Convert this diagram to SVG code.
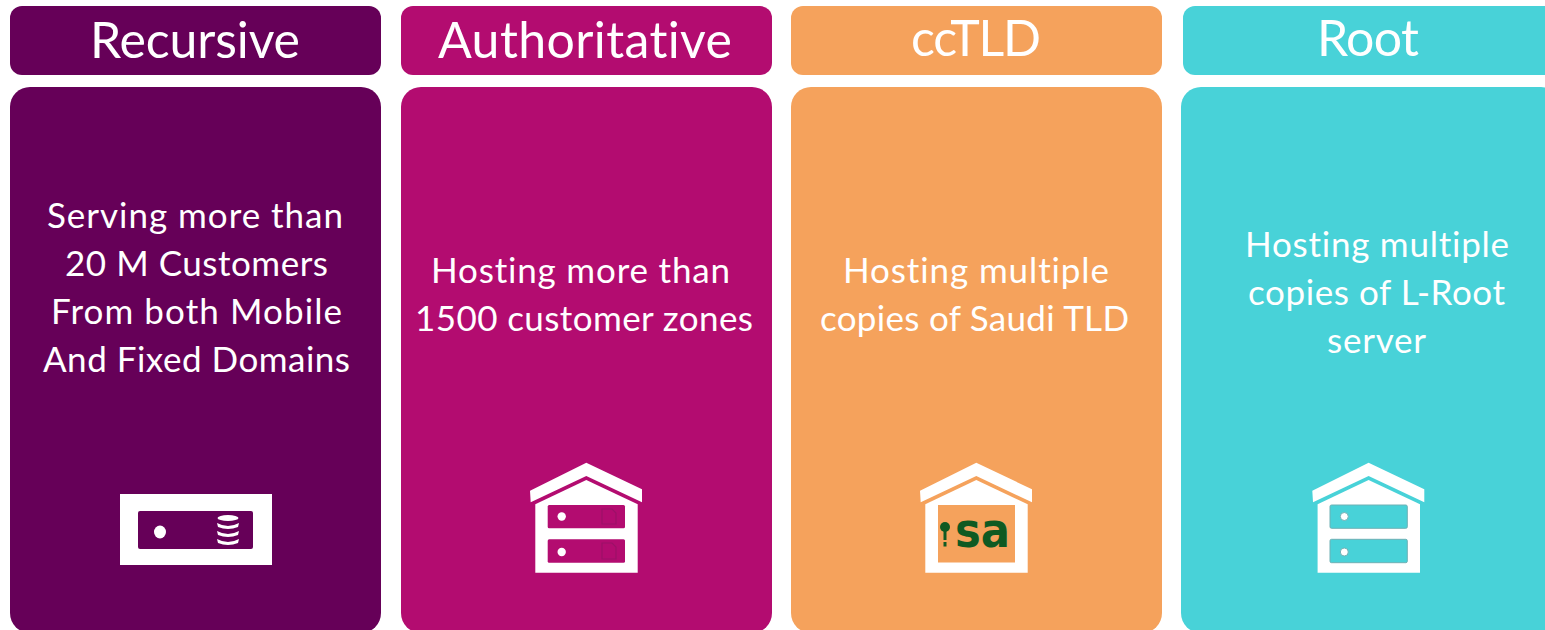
<svg xmlns="http://www.w3.org/2000/svg" width="1545" height="630" viewBox="0 0 1545 630">
<style>
text{font-family:"Lato","Carlito","Open Sans",sans-serif;fill:#fff;text-anchor:middle;font-variant-ligatures:none}
.h{font-size:50px}
.b{font-size:35px}
.w{fill:#fff}
.p{fill:#660058}.m{fill:#b30c70}.o{fill:#f5a25c}.t{fill:#48d2d8}
</style>
<defs>
<g id="house">
<path class="w" d="M586.300 462.700L642 489.300V502.300L586.300 476L530.700 502.300L530 490.700Z"/>
<path class="w" d="M586.300 480L637.700 504.300V572.700H535.300V504.300Z"/>
</g>
</defs>
<rect width="1545" height="630" fill="#fff"/>
<g id="recursive">
<rect class="p" x="10" y="6" width="371" height="69" rx="12"/>
<text class="h" x="195" y="58" textLength="210">Recursive</text>
<rect class="p" x="10" y="87" width="371" height="546" rx="20"/>
<text class="b" x="195" y="228" textLength="296">Serving more than</text>
<text class="b" x="196.500" y="276" textLength="263">20 M Customers</text>
<text class="b" x="196.500" y="324" textLength="291">From both Mobile</text>
<text class="b" x="196.500" y="372" textLength="307">And Fixed Domains</text>
<rect class="w" x="120" y="494" width="152" height="71"/>
<rect class="p" x="138" y="511" width="115" height="38" rx="2"/>
<ellipse class="w" cx="160" cy="532" rx="6" ry="6.500"/>
<g class="w">
<ellipse cx="228" cy="518" rx="10.500" ry="3"/>
<path d="M217 523Q228 529 239 523L238 527Q228 531 218 527Z"/>
<path d="M217 531Q228 537 239 531L238 535Q228 539 218 535Z"/>
<path d="M217 539Q228 545 239 539L238 543Q228 547 218 543Z"/>
</g>
</g>
<g id="authoritative">
<rect class="m" x="401" y="6" width="371" height="69" rx="12"/>
<text class="h" x="585" y="58" textLength="294">Authoritative</text>
<rect class="m" x="401" y="87" width="371" height="546" rx="20"/>
<text class="b" x="580.500" y="283" textLength="299">Hosting more than</text>
<text class="b" x="584" y="331" textLength="338">1500 customer zones</text>
<use href="#house"/>
<rect class="m" x="547.700" y="505" width="77.300" height="23.300" rx="1.500"/>
<rect class="m" x="547.700" y="539.300" width="77.300" height="23.400" rx="1.500"/>
<circle class="w" cx="561.700" cy="516.500" r="4.200"/>
<circle class="w" cx="561.700" cy="552" r="4.200"/>
<g fill="none" stroke="#9c1168" stroke-width="1.200">
<path d="M602 509H612L616 513V524H602Z"/>
<path d="M602 543H612L616 547V559H602Z"/>
</g>
</g>
<g id="cctld">
<rect class="o" x="791" y="6" width="371" height="69" rx="12"/>
<text class="h" x="976" y="56" textLength="130">ccTLD</text>
<rect class="o" x="791" y="87" width="371" height="546" rx="20"/>
<text class="b" x="976" y="283" textLength="266">Hosting multiple</text>
<text class="b" x="974.500" y="331" textLength="309">copies of Saudi TLD</text>
<use href="#house" transform="translate(390 0)"/>
<rect class="o" x="938" y="505" width="77" height="57.500"/>
<circle cx="945" cy="527" r="5" fill="#0f5a22"/>
<rect x="943.500" y="527" width="3" height="13" fill="#0f5a22"/>
<rect x="943.500" y="542" width="3" height="4.500" fill="#0f5a22"/>
<text x="982.500" y="547" style="font-family:'DejaVu Sans',sans-serif;font-weight:700;font-size:48px;fill:#0f5a22" textLength="55" lengthAdjust="spacingAndGlyphs">sa</text>
</g>
<g id="root">
<rect class="t" x="1183" y="6" width="380" height="69" rx="12"/>
<text class="h" x="1368" y="56" textLength="102">Root</text>
<rect class="t" x="1181" y="87" width="380" height="546" rx="20"/>
<text class="b" x="1377" y="257" textLength="264">Hosting multiple</text>
<text class="b" x="1376.500" y="305" textLength="257">copies of L-Root</text>
<text class="b" x="1376.500" y="353" textLength="99">server</text>
<use href="#house" transform="translate(782.300 0)"/>
<rect class="t" x="1330" y="505" width="77.300" height="23.300" rx="1.500" stroke="#6fb0b4"/>
<rect class="t" x="1330" y="539.300" width="77.300" height="23.400" rx="1.500" stroke="#6fb0b4"/>
<circle class="w" cx="1344.300" cy="516.500" r="4" stroke="#6fb0b4"/>
<circle class="w" cx="1344.300" cy="552" r="4" stroke="#6fb0b4"/>
</g>
</svg>
